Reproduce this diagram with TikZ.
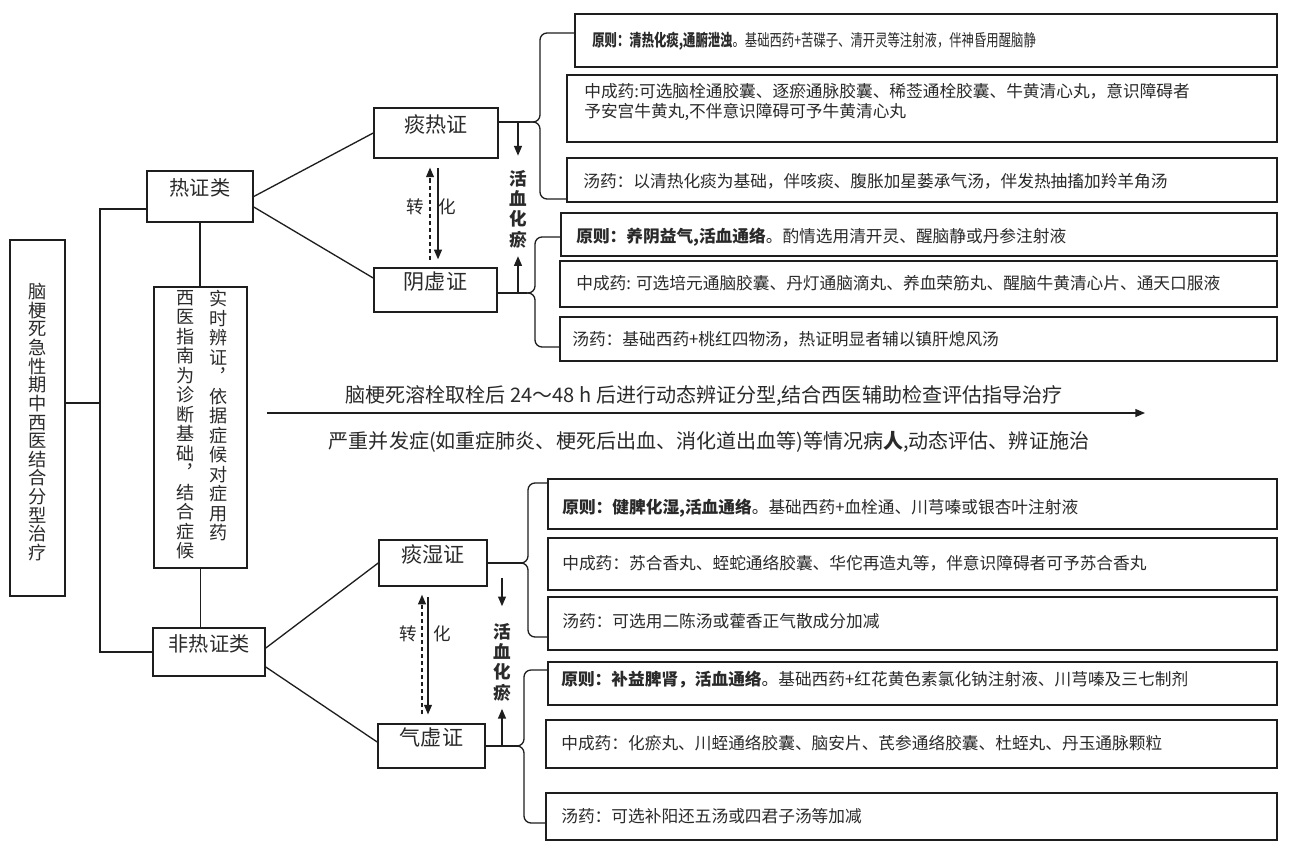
\documentclass[tikz,border=0pt]{standalone}
\usepackage{fontspec}
\setmainfont{Noto Sans CJK SC}
\usepackage{graphicx}
\usepackage{tikz}
\usetikzlibrary{arrows.meta, positioning, fit, calc}
\definecolor{inkOne}{HTML}{1E1E1E}
\definecolor{inkTwo}{HTML}{2A2A2A}
\tikzset{
  bx/.style={draw=inkOne, line width=0.9pt, inner sep=0pt},
  lab/.style={bx, font=\fontsize{11.5}{13}\selectfont, text=inkTwo},
  sub/.style={lab, font=\fontsize{12}{14}\selectfont},
  tx/.style={anchor=west, inner sep=0pt, align=left, font=\fontsize{9.5}{11.4}\selectfont, text=inkTwo},
  vtx/.style={align=center, inner sep=0pt, text=inkTwo},
  note/.style={inner sep=0pt, font=\fontsize{11.4}{13}\selectfont, text=inkTwo},
  zh/.style={inner sep=0pt, font=\fontsize{10}{12}\selectfont, text=inkTwo},
  ln/.style={draw=inkOne, line width=0.75pt},
  brc/.style={ln, rounded corners=4pt},
  arr/.style={ln, -{Triangle[length=5.5pt, width=4.5pt]}},
  darr/.style={arr, dash pattern=on 2.5pt off 1.5pt},
}

\begin{document}
\begin{tikzpicture}[x=0.02cm, y=-0.02cm]
  \useasboundingbox[fill=white] (0,0) rectangle (1290,859);
  % \rbox{name}{left}{top}{bottom}{text x}{text y}{text}
  \newcommand{\rbox}[7]{\node[bx, fit={(#2,#3) (1277,#4)}] (#1) {};
    \node[tx] (#1t) at (#5,#6) {#7};}
  % ---- root, the two groups and the guide box
  \node[bx, fit={(10,240) (65,596)}] (zb) {};
  \node[vtx, anchor=north, font=\fontsize{10.4}{10.6}\selectfont] (zbt) at (37.5,283)
    {脑\\梗\\死\\急\\性\\期\\中\\西\\医\\结\\合\\分\\型\\治\\疗};
  \node[lab, fit={(147,171) (253,222)}] (rz) {热证类};
  \node[lab, fit={(153,628) (265,676)}] (frz) {非热证类};
  \node[bx, fit={(154,287) (247,568)}] (mb) {};
  \node[vtx, anchor=north, font=\fontsize{10.3}{11.1}\selectfont] (mbl) at (186,290)
    {西\\医\\指\\南\\为\\诊\\断\\基\\础\\︐\\结\\合\\症\\候};
  \node[vtx, anchor=north, font=\fontsize{10.3}{11.1}\selectfont] (mbr) at (219,290)
    {实\\时\\辨\\证\\︐\\依\\据\\症\\候\\对\\症\\用\\药};
  \coordinate (sp) at (100,403);
  \draw[ln] (zb.east |- sp) -- (sp);
  \draw[ln] (rz.west |- 0,209) -| (sp) |- (frz.west);
  \draw[ln] (rz.south) -- (mb.north -| rz.south);
  \draw[ln] (mb.south) -- (frz.north -| mb.south);
  % ---- time line
  \node[note] (t1) at (704,396) {脑梗死溶栓取栓后 24～48 h 后进行动态辨证分型,结合西医辅助检查评估指导治疗};
  \node[note] (t2) at (709,442) {严重并发症(如重症肺炎、梗死后出血、消化道出血等)等情况病\textbf{人},动态评估、辨证施治};
  \coordinate (tend) at (1145,413);
  \draw[arr, shorten <=11pt] (mb.east |- tend) -- (tend);
  % ---- heat syndromes
  \node[sub, fit={(374,108) (498,158)}] (tr) {痰热证};
  \node[sub, fit={(374,268) (497,312)}] (yx) {阴虚证};
  \draw[ln] (rz.east) -- (tr.west);
  \draw[ln] (rz.east |- 0,207) -- (yx.west |- 0,278);
  \draw[arr, shorten <=5.5pt, shorten >=4.5pt] (tr.south -| 438,0) -- (yx.north -| 438,0);
  \draw[darr, shorten <=4pt, shorten >=5pt] (yx.north -| 430,0) -- (tr.south -| 430,0);
  \node[zh] (zh1) at (415,207) {转};
  \node[zh] (hua1) at (447,207) {化};
  \node[vtx, font=\bfseries\fontsize{10}{11.6}\selectfont] (hx1) at (518,209) {活\\血\\化\\瘀};
  \coordinate (k1) at (530,122);
  \coordinate (k2) at (527,293);
  \draw[ln] (tr.east |- k1) -- (k1);
  \draw[ln] (yx.east |- k2) -- (k2);
  \draw[arr, shorten >=8pt] (k1 -| hx1) -- (hx1.north);
  \draw[arr, shorten >=4.5pt] (k2 -| hx1) -- (hx1.south);
  \rbox{a1}{575}{14}{67}{592}{41}{\scalebox{0.74}[1]{\textbf{原则：清热化痰,通腑泄浊}。基础西药+苦碟子、清开灵等注射液，伴神昏用醒脑静}}
  \rbox{a2}{567}{75}{142}{584}{102}{中成药:可选脑栓通胶囊、逐瘀通脉胶囊、稀莶通栓胶囊、牛黄清心丸，意识障碍者\\予安宫牛黄丸,不伴意识障碍可予牛黄清心丸}
  \rbox{a3}{567}{158}{202}{583}{181}{汤药：以清热化痰为基础，伴咳痰、腹胀加星蒌承气汤，伴发热抽搐加羚羊角汤}
  \rbox{b1}{561}{213}{256}{576}{237}{\textbf{原则：养阴益气,活血通络}。酌情选用清开灵、醒脑静或丹参注射液}
  \rbox{b2}{560}{261}{307}{576}{283}{中成药: 可选培元通脑胶囊、丹灯通脑滴丸、养血荣筋丸、醒脑牛黄清心片、通天口服液}
  \rbox{b3}{560}{317}{361}{572}{339}{汤药：基础西药+桃红四物汤，热证明显者辅以镇肝熄风汤}
  \draw[brc] (a1.west |- 0,33) -- (540,33) -- (540,122) -- (k1);
  \draw[brc] (k1) -- (540,122) -- (540,199) -- (a3.west |- 0,199);
  \draw[brc] (b1.west |- 0,237) -- (535,237) -- (535,293) -- (k2);
  \draw[brc] (k2) -- (535,293) -- (535,347) -- (b3.west |- 0,347);
  % ---- non-heat syndromes
  \node[sub, fit={(379,540) (487,586)}] (sy) {痰湿证};
  \node[sub, fit={(378,724) (485,768)}] (qx) {气虚证};
  \draw[ln] (frz.east |- 0,648) -- (sy.west);
  \draw[ln] (frz.east |- 0,667) -- (qx.west |- 0,742);
  \draw[arr, shorten <=6pt, shorten >=5pt] (sy.south -| 428,0) -- (qx.north -| 428,0);
  \draw[darr, shorten <=5pt, shorten >=4.5pt] (qx.north -| 422,0) -- (sy.south -| 422,0);
  \node[zh] (zh2) at (408,634) {转};
  \node[zh] (hua2) at (442,634) {化};
  \node[vtx, font=\bfseries\fontsize{10}{11.6}\selectfont] (hx2) at (502,662) {活\\血\\化\\瘀};
  \coordinate (k3) at (522,563);
  \coordinate (k4) at (518,746);
  \draw[ln] (sy.east) -- (k3);
  \draw[ln] (qx.east) -- (k4);
  \draw[arr, shorten <=8.5pt, shorten >=9.4pt] (k3 -| hx2) -- (hx2.north);
  \draw[arr, shorten >=4.3pt] (k4 -| hx2) -- (hx2.south);
  \rbox{c1}{548}{479}{529}{562}{508}{\textbf{原则：健脾化湿,活血通络}。基础西药+血栓通、川芎嗪或银杏叶注射液}
  \rbox{c2}{548}{538}{590}{562}{563}{中成药：苏合香丸、蛭蛇通络胶囊、华佗再造丸等，伴意识障碍者可予苏合香丸}
  \rbox{c3}{548}{597}{650}{562}{621}{汤药：可选用二陈汤或藿香正气散成分加减}
  \rbox{d1}{548}{662}{705}{561}{680}{\textbf{原则：补益脾肾，活血通络}。基础西药+红花黄色素氯化钠注射液、川芎嗪及三七制剂}
  \rbox{d2}{546}{720}{768}{561}{743}{中成药：化瘀丸、川蛭通络胶囊、脑安片、芪参通络胶囊、杜蛭丸、丹玉通脉颗粒}
  \rbox{d3}{546}{793}{840}{561}{816}{汤药：可选补阳还五汤或四君子汤等加减}
  \draw[brc] (c1.west |- 0,483) -- (528,483) -- (528,563) -- (k3);
  \draw[brc] (k3) -- (528,563) -- (528,637) -- (c3.west |- 0,637);
  \draw[brc] (d1.west |- 0,670) -- (524,670) -- (524,746) -- (k4);
  \draw[brc] (k4) -- (524,746) -- (524,823) -- (d3.west |- 0,823);
\end{tikzpicture}
\end{document}
